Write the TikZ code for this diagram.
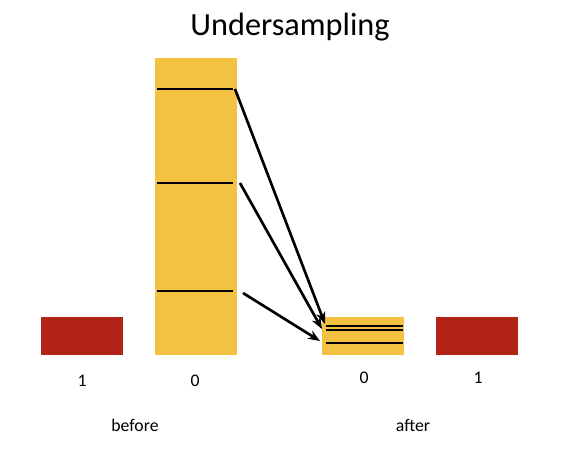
\documentclass[tikz,border=0pt]{standalone}
\usepackage{fontspec}
\setmainfont{Carlito}
\usetikzlibrary{arrows.meta}
\definecolor{barred}{HTML}{B22418}
\definecolor{baryel}{HTML}{F4C242}
\begin{document}
\begin{tikzpicture}[x=0.75pt,y=-0.75pt,
  redbar/.style={fill=barred,draw=none},
  yelbar/.style={fill=baryel,draw=none},
  sampline/.style={line width=1.5pt,black},
  movearrow/.style={line width=2pt,-{Stealth[length=9pt,width=7pt]}},
  lbl/.style={font=\fontsize{13.3}{15}\selectfont,inner sep=0pt}]
\useasboundingbox (0,0) rectangle (564,450);
\node[font=\fontsize{24.2}{28}\selectfont,inner sep=0pt] (title) at (290,27) {Undersampling};
\fill[redbar] (41,317) rectangle (123,355);
\fill[yelbar] (155,58) rectangle (237,355);
\fill[yelbar] (322,317) rectangle (404,355);
\fill[redbar] (436,317) rectangle (518,355);
\draw[sampline] (157,89) -- (233,89);
\draw[sampline] (157,183) -- (233,183);
\draw[sampline] (157,291) -- (233,291);
\draw[sampline] (326,325.5) -- (403,325.5);
\draw[sampline] (326,330) -- (403,330);
\draw[sampline] (326,343) -- (403,343);
\coordinate (s1) at (235,89);
\coordinate (s2) at (240,183);
\coordinate (s3) at (243,293);
\coordinate (e1) at (325,324);
\coordinate (e2) at (322,329);
\coordinate (e3) at (320,341);
\draw[movearrow] (s1) -- (e1);
\draw[movearrow] (s2) -- (e2);
\draw[movearrow] (s3) -- (e3);
\node[lbl] (l1) at (82,381) {1};
\node[lbl] (l0) at (195,381) {0};
\node[lbl] (r0) at (364,378) {0};
\node[lbl] (r1) at (478,378) {1};
\node[lbl] (before) at (135,425) {before};
\node[lbl] (after) at (413,425) {after};
\end{tikzpicture}
\end{document}
